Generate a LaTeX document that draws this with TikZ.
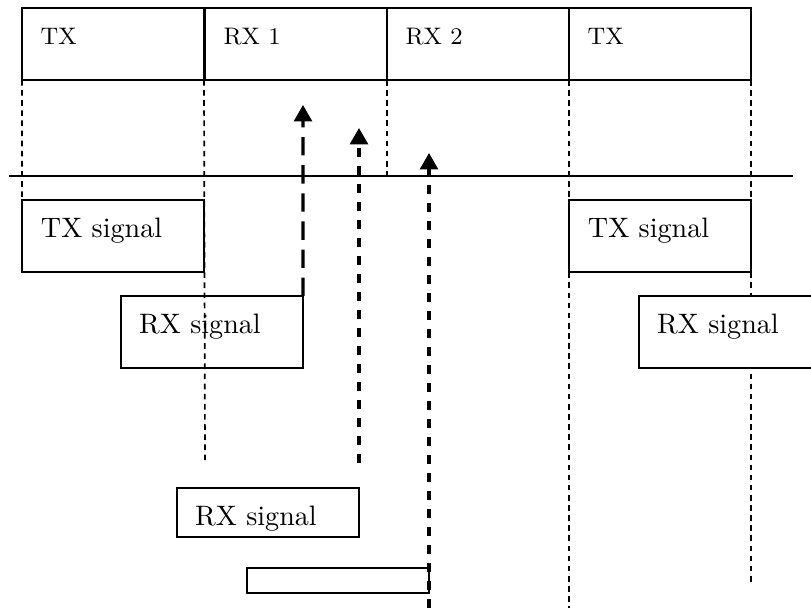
\documentclass[tikz,border=0pt]{standalone}
\usepackage{tikz}
\usetikzlibrary{arrows.meta,positioning}

\begin{document}
\begin{tikzpicture}[
  slot/.style={rectangle,draw,line width=0.7pt,minimum width=2.275cm,minimum height=0.9cm,inner sep=0pt,outer sep=0pt},
  sigbox/.style={rectangle,draw,line width=0.7pt,minimum width=2.275cm,inner sep=0pt,outer sep=0pt},
  slotlabel/.style={anchor=base west,inner sep=0pt,font=\fontsize{8.5}{10}\selectfont},
  siglabel/.style={anchor=base west,inner sep=0pt},
  guide/.style={line width=0.6pt,dash pattern=on 2pt off 1.6pt},
  delay/.style={line width=1.1pt,-{Triangle[width=6.3pt,length=5.8pt]}},
]
\useasboundingbox (0,0) rectangle (10.1375,7.6);

% Frame slots
\node[slot] (tx1) at (1.4125,7.05) {};
\node[slot] (rx1) at (3.7,7.05) {};
\node[slot] (rx2) at (5.975,7.05) {};
\node[slot] (tx2) at (8.25,7.05) {};
\node[slotlabel] (tx1lab) at ([xshift=0.225cm,yshift=-0.4625cm]tx1.north west) {TX};
\node[slotlabel] (rx1lab) at ([xshift=0.225cm,yshift=-0.4625cm]rx1.north west) {RX 1};
\node[slotlabel] (rx2lab) at ([xshift=0.225cm,yshift=-0.4625cm]rx2.north west) {RX 2};
\node[slotlabel] (tx2lab) at ([xshift=0.225cm,yshift=-0.4625cm]tx2.north west) {TX};

% Time axis
\coordinate (axl) at (0.1125,5.4);
\coordinate (axr) at (9.9125,5.4);
\draw[line width=0.7pt] (axl) -- (axr);

% Slot boundaries
\coordinate (enda) at (2.5625,1.8125);
\coordinate (endc) at (7.1125,0);
\coordinate (endd) at (9.3875,0.3);
\draw[guide] (tx1.south west) -- (0.275,5.1);
\draw[guide] (tx1.south east) -- (enda);
\draw[guide] (rx1.south east) -- (rx1.south east |- axl);
\draw[guide] (rx2.south east) -- (endc);
\draw[guide] (tx2.south east) -- (endd);

% Signals
\node[sigbox,minimum height=0.9cm] (txsa) at (1.4125,4.65) {};
\node[sigbox,minimum height=0.9cm] (txsb) at (8.25,4.65) {};
\node[sigbox,minimum height=0.9cm] (rxsa) at (2.65,3.45) {};
\node[sigbox,minimum height=0.9cm,fill=white] (rxsc) at (9.125,3.45) {};
\node[sigbox,minimum height=0.6125cm] (rxsb) at (3.35,1.19375) {};
\node[sigbox,minimum height=0.3125cm] (rxsd) at (4.225,0.34375) {};
\node[siglabel] (txsalab) at ([xshift=0.23cm,yshift=-0.475cm]txsa.north west) {TX signal};
\node[siglabel] (txsblab) at ([xshift=0.23cm,yshift=-0.475cm]txsb.north west) {TX signal};
\node[siglabel] (rxsalab) at ([xshift=0.22cm,yshift=-0.475cm]rxsa.north west) {RX signal};
\node[siglabel] (rxsclab) at ([xshift=0.22cm,yshift=-0.475cm]rxsc.north west) {RX signal};
\node[siglabel] (rxsblab) at ([xshift=0.22cm,yshift=-0.475cm]rxsb.north west) {RX signal};

% Propagation delays
\coordinate (tipa) at (3.7875,6.2875);
\coordinate (startb) at (4.4875,1.8125);
\coordinate (tipb) at (4.4875,6.0);
\coordinate (startc) at (5.3625,0);
\coordinate (tipc) at (5.3625,5.6875);
\draw[delay,dash pattern=on 6.5pt off 3.5pt] (rxsa.north east) -- (tipa);
\draw[delay,dash pattern=on 3.3pt off 3.1pt] (startb) -- (tipb);
\draw[delay,dash pattern=on 3.3pt off 3.1pt] (startc) -- (tipc);

\end{tikzpicture}
\end{document}
